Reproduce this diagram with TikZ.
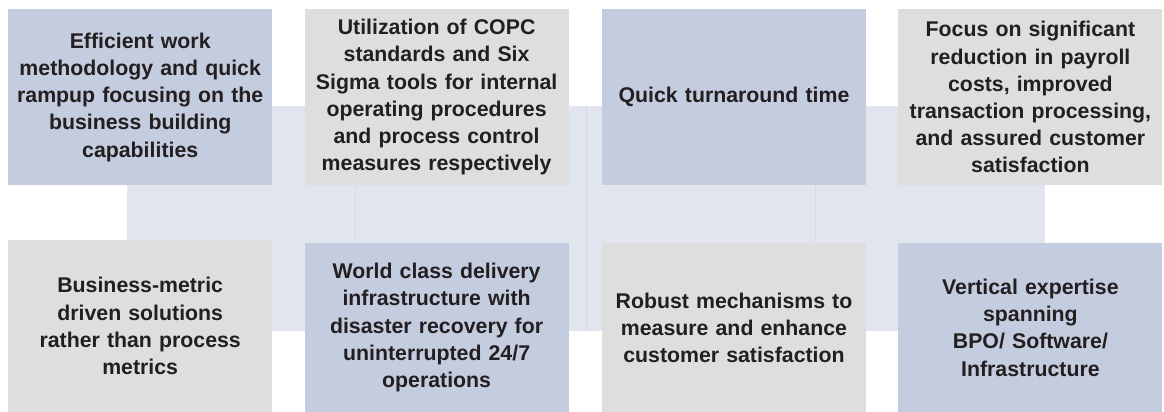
\documentclass[tikz,border=0pt]{standalone}
\usepackage{fontspec}
\setmainfont{Liberation Sans}
\usetikzlibrary{positioning}

\definecolor{tileblue}{HTML}{C4CCDF}
\definecolor{tilegrey}{HTML}{DEDEDE}
\definecolor{bandblue}{HTML}{E1E5EE}
\definecolor{bandline}{HTML}{D2D8E5}
\definecolor{tiletext}{HTML}{231F20}

\tikzset{
  tile/.style={inner sep=0pt, minimum width=264pt, text width=258pt,
    align=center, text=tiletext, font=\fontsize{21.3}{27.2}\selectfont\bfseries},
  tileb/.style={tile, fill=tileblue},
  tileg/.style={tile, fill=tilegrey},
}

\begin{document}
\begin{tikzpicture}[x=1pt, y=1pt]
    \useasboundingbox (0,0) rectangle (1164,-412);%

    % Band behind the tiles
    \node [fill=bandblue, inner sep=0pt, minimum width=918pt,
    minimum height=225pt, anchor=north west] (band) at (127,-106) {};%

    % Top row
    \node [tileb, minimum height=176pt, anchor=north west] (eff) at (8,-9)
    {Efficient work\\methodology and quick\\rampup focusing on the\\business
    building\\capabilities};%
    \node [tileg, minimum height=176pt, right=32pt of eff] (copc)
    {Utilization of COPC\\standards and Six\\Sigma tools for internal\\operating
    procedures\\and process control\\measures respectively};%
    \node [tileb, minimum height=176pt, right=33pt of copc] (quick)
    {Quick turnaround time};%
    \node [tileg, minimum height=176pt, right=32pt of quick] (payroll)
    {Focus on significant\\reduction in payroll\\costs, improved\\transaction
    processing,\\and assured customer\\satisfaction};%

    % Bottom row
    \node [tileg, minimum height=173pt, below=54pt of eff] (metric)
    {Business-metric\\driven solutions\\rather than process\\metrics};%
    \node [tileb, minimum height=170pt, below=57pt of copc] (world)
    {World class delivery\\infrastructure with\\disaster recovery
    for\\uninterrupted 24/7\\operations};%
    \node [tileg, minimum height=170pt, below=57pt of quick] (robust)
    {Robust mechanisms to\\measure and enhance\\customer satisfaction};%
    \node [tileb, minimum height=170pt, below=57pt of payroll] (vertical)
    {Vertical expertise\\spanning\\BPO/ Software/\\Infrastructure};%

    % thin lines in the band
    \draw [bandline, line width=0.8pt] (band.north) -- (band.south);%
    \draw [bandline, line width=0.8pt] ([xshift=-81pt]copc.south) --
    ([xshift=-81pt]world.north);%
    \draw [bandline, line width=0.8pt] ([xshift=81pt]quick.south) --
    ([xshift=81pt]robust.north);%
\end{tikzpicture}
\end{document}
